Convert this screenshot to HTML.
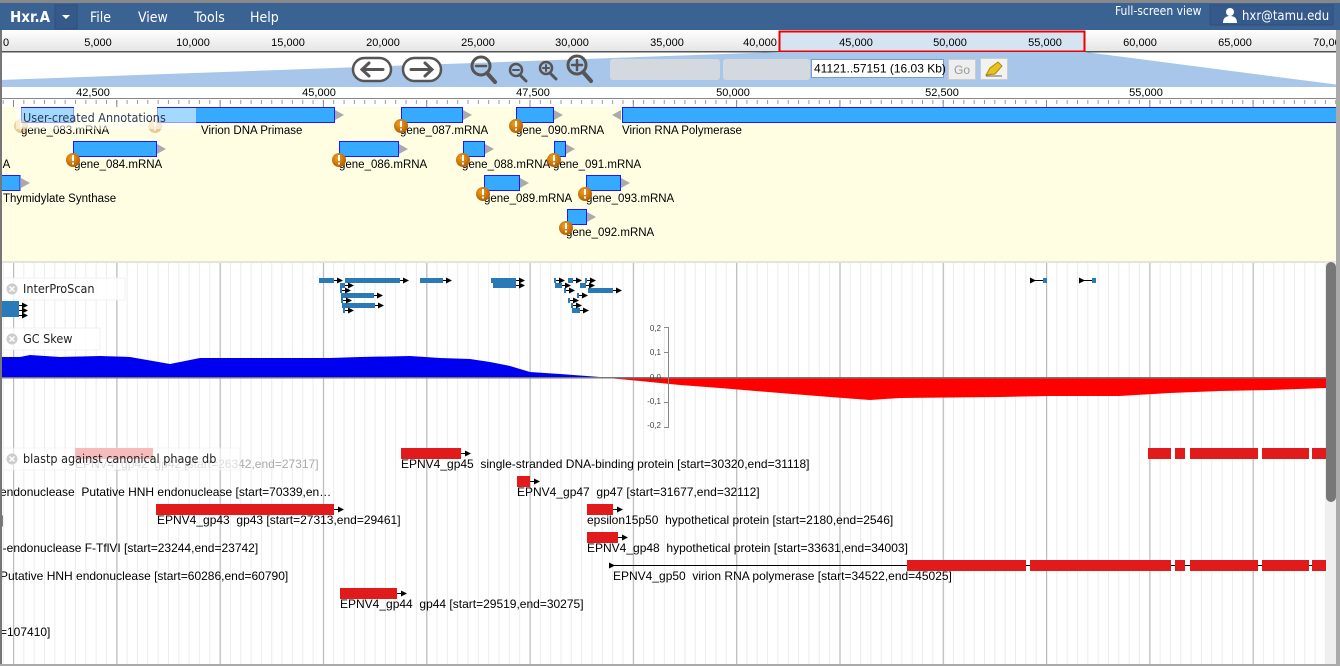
<!DOCTYPE html>
<html><head><meta charset="utf-8"><style>
html,body{margin:0;padding:0;width:1340px;height:666px;overflow:hidden;background:#fff}
svg{display:block}
text{font-family:"Liberation Sans",Arial,sans-serif;white-space:pre}
.m{font-family:"DejaVu Sans Condensed","DejaVu Sans","Liberation Sans",sans-serif}
</style></head><body>
<svg width="1340" height="666" viewBox="0 0 1340 666" xmlns="http://www.w3.org/2000/svg">
<defs>
<pattern id="gmin" x="13" y="0" width="10.33" height="10" patternUnits="userSpaceOnUse"><rect x="0" y="0" width="1" height="10" fill="#ececec"/></pattern>
<pattern id="gmaj" x="13" y="0" width="103.3" height="10" patternUnits="userSpaceOnUse"><rect x="0" y="0" width="1.2" height="10" fill="#bbbbbb"/></pattern>
<pattern id="tmin" x="13" y="0" width="10.33" height="10" patternUnits="userSpaceOnUse"><rect x="0" y="0" width="1" height="4" fill="#999"/></pattern>
<pattern id="tmaj" x="13" y="0" width="103.3" height="10" patternUnits="userSpaceOnUse"><rect x="0" y="0" width="1" height="9" fill="#888"/></pattern>
<linearGradient id="rul" x1="0" y1="0" x2="0" y2="1"><stop offset="0" stop-color="#fff"/><stop offset="1" stop-color="#e4e4e4"/></linearGradient>
<radialGradient id="warn" cx="0.4" cy="0.35" r="0.7"><stop offset="0" stop-color="#f0a020"/><stop offset="1" stop-color="#b05a00"/></radialGradient>
<marker id="ar" markerWidth="6" markerHeight="6" refX="5" refY="3" orient="auto" markerUnits="userSpaceOnUse"><path d="M0,0 L6,3 L0,6 z" fill="#000"/></marker>
<marker id="al" markerWidth="6" markerHeight="6" refX="1" refY="3" orient="auto" markerUnits="userSpaceOnUse"><path d="M6,0 L0,3 L6,6 z" fill="#000"/></marker>
<g id="w"><circle cx="0" cy="0" r="7" fill="url(#warn)"/><rect x="-1" y="-5" width="2" height="6" fill="#fff"/><rect x="-1" y="2.5" width="2" height="2" fill="#fff"/></g>
</defs>

<rect x="0" y="0" width="1340" height="666" fill="#fff"/>
<rect x="0" y="0" width="1340" height="3" fill="#888"/>
<rect x="0" y="3" width="1340" height="27" fill="#3a6394"/>
<text x="10" y="22" fill="#fff" font-size="15" font-weight="bold" class="m">Hxr.A</text>
<rect x="55" y="5" width="22" height="24" fill="#35598a" stroke="#2d4e7a"/>
<path d="M62,15 L70,15 L66,19 z" fill="#fff"/>
<text x="90" y="22" fill="#fff" font-size="14" class="m">File</text>
<text x="138" y="22" fill="#fff" font-size="14" class="m">View</text>
<text x="194" y="22" fill="#fff" font-size="14" class="m">Tools</text>
<text x="250" y="22" fill="#fff" font-size="14" class="m">Help</text>
<text x="1115" y="15" fill="#fff" font-size="12" class="m">Full-screen view</text>
<rect x="1210" y="5" width="123" height="20" fill="#35598a" stroke="#2e507d"/>
<circle cx="1230" cy="12" r="4" fill="#fff"/><path d="M1223,23 Q1223,16 1230,16 Q1237,16 1237,23 z" fill="#fff"/>
<text x="1242" y="20" fill="#fff" font-size="13" class="m">hxr@tamu.edu</text>

<rect x="0" y="30" width="1340" height="22" fill="url(#rul)"/>
<rect x="779" y="31" width="306" height="21" fill="#d6e4f2"/>
<rect x="0" y="51" width="1340" height="1.5" fill="#555"/>
<g font-size="11" fill="#000" text-anchor="middle">
<text x="6" y="46">0</text><text x="98" y="46">5,000</text><text x="193" y="46">10,000</text><text x="288" y="46">15,000</text><text x="383" y="46">20,000</text><text x="478" y="46">25,000</text><text x="572" y="46">30,000</text><text x="667" y="46">35,000</text><text x="760" y="46">40,000</text><text x="856" y="46">45,000</text><text x="950" y="46">50,000</text><text x="1045" y="46">55,000</text><text x="1140" y="46">60,000</text><text x="1235" y="46">65,000</text><text x="1330" y="46">70,000</text>
</g>
<rect x="779.5" y="31.5" width="305" height="20" fill="none" stroke="#e00" stroke-width="2"/>

<polygon points="0,87 1340,87 1340,85 1085,52 779,52 0,80" fill="#a8c6e9"/>
<g fill="#fff" stroke="#555" stroke-width="2.5">
<rect x="353" y="58" width="38" height="23" rx="11.5"/><rect x="403" y="58" width="38" height="23" rx="11.5"/>
</g>
<g stroke="#555" stroke-width="3" fill="none" stroke-linecap="round">
<path d="M362,69.5 H383 M369,63 L362,69.5 L369,76"/>
<path d="M411,69.5 H432 M425,63 L432,69.5 L425,76"/>
</g>
<g stroke="#555" fill="none" stroke-linecap="round">
<circle cx="481" cy="66" r="9" stroke-width="3"/><path d="M487,73 L495,82" stroke-width="4"/><path d="M476,66 H486" stroke-width="2.5"/>
<circle cx="516" cy="70" r="6" stroke-width="2.5"/><path d="M520,75 L526,81" stroke-width="3"/><path d="M513,70 H519" stroke-width="2"/>
<circle cx="546" cy="68" r="6" stroke-width="2.5"/><path d="M550,73 L556,79" stroke-width="3"/><path d="M543,68 H549 M546,65 V71" stroke-width="2"/>
<circle cx="577" cy="65" r="9" stroke-width="3"/><path d="M583,72 L591,81" stroke-width="4"/><path d="M572,65 H582 M577,60 V70" stroke-width="2.5"/>
</g>
<rect x="610" y="59" width="110" height="21" fill="#d4d9e0" rx="3"/>
<rect x="723" y="59" width="87" height="21" fill="#d4d9e0" rx="3"/>
<rect x="811.5" y="59.5" width="132" height="18" fill="#fff" stroke="#7a9cc4"/>
<text x="814" y="72.5" font-size="12">41121..57151 (16.03 Kb)</text>
<rect x="948.5" y="59.5" width="27" height="20" fill="#eee" stroke="#ccc"/>
<text x="962" y="74" font-size="12" fill="#999" text-anchor="middle">Go</text>
<rect x="980.5" y="58.5" width="27" height="21" fill="#f2f2f2" stroke="#ccc"/>
<path d="M986,75 L990,68 L998,62 L1002,66 L995,74 z" fill="#e8c020" stroke="#b08a00"/>
<path d="M986,76 L1002,76" stroke="#666"/>

<g font-size="11" text-anchor="middle">
<text x="93" y="96">42,500</text><text x="319" y="96">45,000</text><text x="533" y="96">47,500</text><text x="733" y="96">50,000</text><text x="942" y="96">52,500</text><text x="1146" y="96">55,000</text><text x="1340" y="96">5</text>
</g>
<rect x="0" y="98" width="1340" height="1" fill="#888"/>
<rect x="0" y="99" width="1340" height="8" fill="url(#tmin)"/>
<rect x="0" y="99" width="1340" height="8" fill="url(#tmaj)"/>

<rect x="0" y="262" width="1326" height="402" fill="url(#gmin)"/>
<rect x="0" y="262" width="1326" height="402" fill="url(#gmaj)"/>

<rect x="0" y="107" width="1340" height="155" fill="#fffee2"/>
<rect x="0" y="261" width="1340" height="2" fill="#e4e4d8"/>
<g fill="#35aaff" stroke="#1a1aff" stroke-width="1">
<rect x="21.5" y="107.5" width="52" height="15"/>
<rect x="157.5" y="107.5" width="177" height="15"/>
<rect x="401.5" y="107.5" width="61" height="15"/>
<rect x="516.5" y="107.5" width="37" height="15"/>
<rect x="622.5" y="107.5" width="720" height="15"/>
<rect x="73.5" y="141.5" width="83" height="15"/>
<rect x="339.5" y="141.5" width="59" height="15"/>
<rect x="463.5" y="141.5" width="21" height="15"/>
<rect x="554.5" y="141.5" width="11" height="15"/>
<rect x="-2" y="175.5" width="22" height="15"/>
<rect x="484.5" y="175.5" width="35" height="15"/>
<rect x="586.5" y="175.5" width="34" height="15"/>
<rect x="567.5" y="209.5" width="19" height="15"/>
</g>
<g fill="#aaa">
<path d="M335,110 L344,115 L335,120z"/><path d="M463,110 L472,115 L463,120z"/><path d="M554,110 L563,115 L554,120z"/><path d="M621,110 L612,115 L621,120z"/>
<path d="M157,144 L166,149 L157,154z"/><path d="M399,144 L408,149 L399,154z"/><path d="M485,144 L494,149 L485,154z"/><path d="M566,144 L575,149 L566,154z"/>
<path d="M21,178 L30,183 L21,188z"/><path d="M520,178 L529,183 L520,188z"/><path d="M621,178 L630,183 L621,188z"/>
<path d="M587,212 L596,217 L587,222z"/>
</g>
<g font-size="11.5" class="m">
<text x="201" y="134">Virion DNA Primase</text>
<text x="400" y="134">gene_087.mRNA</text>
<text x="516" y="134">gene_090.mRNA</text>
<text x="622" y="134">Virion RNA Polymerase</text>
<text x="-14" y="168">RNA</text>
<text x="74" y="168">gene_084.mRNA</text>
<text x="339" y="168">gene_086.mRNA</text>
<text x="462" y="168">gene_088.mRNA</text>
<text x="553" y="168">gene_091.mRNA</text>
<text x="3" y="202">Thymidylate Synthase</text>
<text x="484" y="202">gene_089.mRNA</text>
<text x="586" y="202">gene_093.mRNA</text>
<text x="566" y="236">gene_092.mRNA</text>
<text x="21" y="134">gene_083.mRNA</text>
</g>
<use href="#w" x="401" y="126"/><use href="#w" x="516" y="126"/>
<use href="#w" x="73" y="160"/><use href="#w" x="339" y="160"/><use href="#w" x="463" y="160"/><use href="#w" x="554" y="160"/>
<use href="#w" x="483" y="194"/><use href="#w" x="585" y="194"/><use href="#w" x="566" y="228"/>
<use href="#w" x="21" y="126" opacity="0.35"/><use href="#w" x="155" y="126" opacity="0.35"/>
<rect x="16" y="108" width="180" height="21" fill="#fff" opacity="0.55"/>
<text x="23" y="122" font-size="12.5" class="m" fill="#2a3a5a">User-created Annotations</text>

<rect x="3" y="278" width="122" height="22" fill="#fff" opacity="0.85" stroke="#f0f0f0"/>
<circle cx="12" cy="289" r="5.5" fill="#ccc"/><path d="M9.5,286.5 L14.5,291.5 M14.5,286.5 L9.5,291.5" stroke="#fff" stroke-width="1.5"/>
<text x="23" y="293" font-size="12.5" class="m" fill="#222">InterProScan</text>
<g fill="#2a7ab8">
<rect x="319" y="278" width="15" height="5"/><rect x="345" y="278" width="55" height="5"/><rect x="420" y="278" width="23" height="5"/><rect x="491" y="278" width="25" height="5"/><rect x="554" y="278" width="2" height="5"/><rect x="568" y="278" width="5" height="5"/><rect x="585" y="278" width="2" height="5"/>
<rect x="340" y="283" width="5" height="5"/><rect x="493" y="283" width="23" height="5"/><rect x="555" y="283" width="7" height="5"/><rect x="580" y="283" width="6" height="5"/>
<rect x="340" y="288" width="2" height="5"/><rect x="564" y="288" width="2" height="5"/><rect x="588" y="288" width="25" height="5"/>
<rect x="341" y="293" width="33" height="5"/><rect x="577" y="293" width="2" height="5"/>
<rect x="341" y="298" width="2" height="5"/><rect x="568" y="298" width="2" height="5"/>
<rect x="342" y="303" width="33" height="5"/><rect x="571" y="303" width="2" height="5"/>
<rect x="343" y="308" width="2" height="5"/><rect x="572" y="308" width="8" height="5"/>
<rect x="0" y="301" width="19" height="16"/>
<rect x="1043" y="278" width="4" height="5"/><rect x="1092" y="278" width="4" height="5"/>
</g>
<g stroke="#000" stroke-width="1" marker-end="url(#ar)">
<path d="M334,280.5 h8"/><path d="M400,280.5 h8"/><path d="M443,280.5 h8"/><path d="M516,280.5 h8"/><path d="M556,280.5 h8"/><path d="M573,280.5 h8"/><path d="M587,280.5 h8"/>
<path d="M345,285.5 h8"/><path d="M516,285.5 h8"/><path d="M562,285.5 h8"/><path d="M586,285.5 h8"/>
<path d="M342,290.5 h8"/><path d="M566,290.5 h8"/><path d="M613,290.5 h8"/>
<path d="M374,295.5 h8"/><path d="M579,295.5 h8"/>
<path d="M343,300.5 h8"/><path d="M570,300.5 h8"/>
<path d="M375,305.5 h8"/><path d="M573,305.5 h8"/>
<path d="M345,310.5 h8"/><path d="M580,310.5 h8"/>
<path d="M19,305.5 h8"/><path d="M19,310.5 h8"/><path d="M19,315.5 h8"/>
</g>
<g stroke="#000" stroke-width="1" marker-end="url(#al)">
<path d="M1043,280.5 h-8"/><path d="M1092,280.5 h-8"/>
</g>

<rect x="3" y="328" width="97" height="22" fill="#fff" opacity="0.85" stroke="#f0f0f0"/>
<circle cx="12" cy="339" r="5.5" fill="#ccc"/><path d="M9.5,336.5 L14.5,341.5 M14.5,336.5 L9.5,341.5" stroke="#fff" stroke-width="1.5"/>
<text x="23" y="343" font-size="12.5" class="m" fill="#222">GC Skew</text>
<path d="M0,378 L0,357 L20,357 L30,355 L60,357 L100,356 L130,357 L170,364 L200,358 L260,358 L330,358 L360,357 L410,356 L440,358 L470,359 L490,362 L510,366 L530,372 L560,374 L600,377 L606,378 Z" fill="#0000f0"/>
<path d="M608,378 L640,381 L680,385 L720,388 L780,393 L830,397 L870,400 L900,398 L1000,397 L1050,396 L1120,396 L1170,393 L1220,391 L1270,390 L1326,388 L1326,378 Z" fill="#ff0000"/>
<rect x="0" y="377" width="1326" height="1.5" fill="#777"/>
<rect x="668" y="327" width="1" height="101" fill="#888"/>
<g stroke="#888"><path d="M664,327.5h5 M664,352.5h5 M664,377.5h5 M664,402.5h5 M664,427.5h5"/></g>
<g font-size="8" text-anchor="end" fill="#444">
<text x="661" y="331" font-family="Liberation Serif,serif">0,2</text><text x="661" y="355" font-family="Liberation Serif,serif">0,1</text><text x="661" y="380" font-family="Liberation Serif,serif">0,0</text><text x="661" y="404" font-family="Liberation Serif,serif">-0,1</text><text x="661" y="428" font-family="Liberation Serif,serif">-0,2</text>
</g>

<g fill="#e11b1b">
<rect x="401" y="448" width="60" height="11"/>
<rect x="1148" y="448" width="23" height="11"/><rect x="1175" y="448" width="10" height="11"/><rect x="1190" y="448" width="68" height="11"/><rect x="1262" y="448" width="47" height="11"/><rect x="1312" y="448" width="14" height="11"/>
<rect x="517" y="476" width="13" height="11"/>
<rect x="156" y="504" width="178" height="11"/>
<rect x="587" y="504" width="26" height="11"/>
<rect x="587" y="532" width="31" height="11"/>
<rect x="907" y="560" width="119" height="11"/><rect x="1030" y="560" width="141" height="11"/><rect x="1175" y="560" width="10" height="11"/><rect x="1190" y="560" width="68" height="11"/><rect x="1262" y="560" width="47" height="11"/><rect x="1312" y="560" width="14" height="11"/>
<rect x="340" y="588" width="57" height="11"/>
</g>
<rect x="75" y="448" width="78" height="11" fill="#f5b3b3"/>
<path d="M613,565.5 H907 M1026,565.5h4 M1171,565.5h4 M1185,565.5h5 M1258,565.5h4 M1309,565.5h3" stroke="#000"/>
<g stroke="#000" stroke-width="1" marker-end="url(#ar)">
<path d="M461,453.5 h9"/><path d="M530,481.5 h9"/><path d="M334,509.5 h9"/><path d="M613,509.5 h9"/><path d="M618,537.5 h9"/><path d="M397,593.5 h9"/>
</g>
<path d="M620,565.5 h-6" stroke="#000" marker-end="url(#al)"/>
<g font-size="12" fill="#000" xml:space="preserve">
<text x="75" y="468" fill="#aaa">EPNV4_gp42  gp42 [start=26342,end=27317]</text>
<text x="401" y="468">EPNV4_gp45  single-stranded DNA-binding protein [start=30320,end=31118]</text>
<text x="0" y="496">endonuclease  Putative HNH endonuclease [start=70339,en…</text>
<text x="517" y="496">EPNV4_gp47  gp47 [start=31677,end=32112]</text>
<text x="0" y="524">]</text>
<text x="157" y="524">EPNV4_gp43  gp43 [start=27313,end=29461]</text>
<text x="587" y="524">epsilon15p50  hypothetical protein [start=2180,end=2546]</text>
<text x="0" y="552">l-endonuclease F-TflVI [start=23244,end=23742]</text>
<text x="587" y="552">EPNV4_gp48  hypothetical protein [start=33631,end=34003]</text>
<text x="0" y="580">Putative HNH endonuclease [start=60286,end=60790]</text>
<text x="613" y="580">EPNV4_gp50  virion RNA polymerase [start=34522,end=45025]</text>
<text x="340" y="608">EPNV4_gp44  gp44 [start=29519,end=30275]</text>
<text x="0" y="636">=107410]</text>
</g>
<rect x="3" y="448" width="237" height="22" fill="#fff" opacity="0.6" stroke="#f0f0f0"/>
<rect x="75" y="448" width="78" height="11" fill="#f5b3b3" opacity="0.8"/>
<circle cx="12" cy="459" r="5.5" fill="#ccc"/><path d="M9.5,456.5 L14.5,461.5 M14.5,456.5 L9.5,461.5" stroke="#fff" stroke-width="1.5"/>
<text x="23" y="463" font-size="12.5" class="m" fill="#222">blastp against canonical phage db</text>

<rect x="1326" y="262" width="10" height="402" fill="#efefef"/>
<rect x="1326" y="262" width="10" height="240" rx="5" fill="#777"/>
<rect x="1336" y="30" width="4" height="636" fill="#aaa"/>
<rect x="0" y="30" width="2" height="636" fill="#777"/>
<rect x="0" y="664" width="1340" height="2" fill="#aaa"/>
</svg>
</body></html>
